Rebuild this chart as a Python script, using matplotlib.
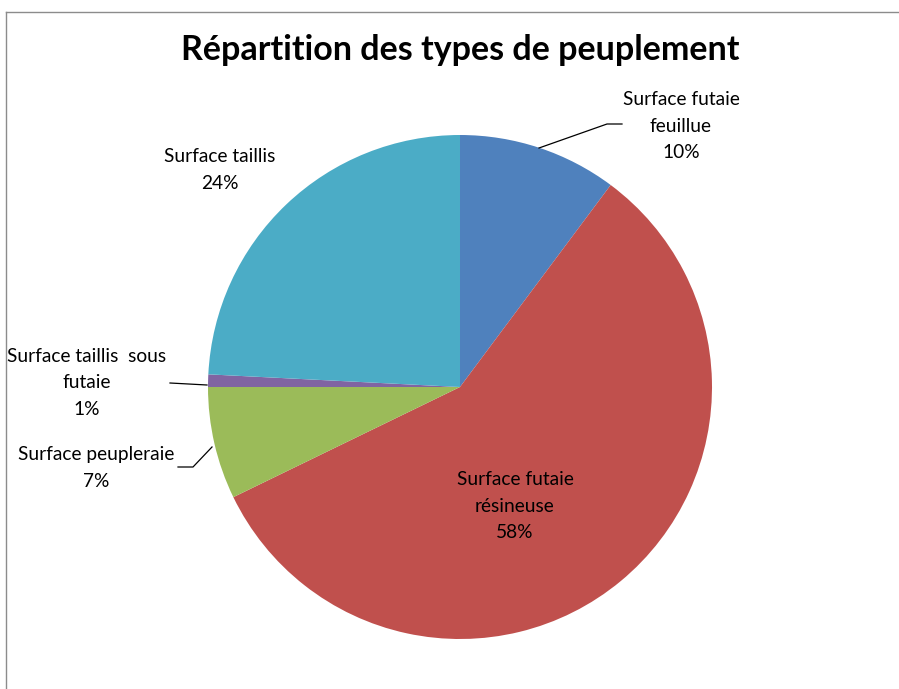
import matplotlib
matplotlib.use("Agg")
import matplotlib.pyplot as plt
from matplotlib.lines import Line2D

plt.rcParams['font.family'] = ['Lato', 'DejaVu Sans']

# data
labels = ["Surface futaie\nfeuillue", "Surface futaie\nrésineuse", "Surface peupleraie",
          "Surface taillis  sous\nfutaie", "Surface taillis"]
values = [10.2, 57.6, 7.2, 0.8, 24.2]
pct_text = ["10%", "58%", "7%", "1%", "24%"]
colors = ["#4F81BD", "#C0504D", "#9BBB59", "#8064A2", "#4BACC6"]

W, H = 899, 689
cx, cy, R = 460, 387, 252

fig = plt.figure(figsize=(W / 100, H / 100), dpi=100)
ax = fig.add_axes([(cx - R) / W, (H - cy - R) / H, 2 * R / W, 2 * R / H])
ax.pie(values, colors=colors, startangle=90, counterclock=False, radius=1,
       wedgeprops=dict(linewidth=0))
ax.set_xlim(-1, 1)
ax.set_ylim(-1, 1)
ax.set_aspect('equal')
ax.axis('off')


def d(px, py):
    # pixel position -> data coords of the pie axes
    return (px - cx) / R, (cy - py) / R


# label positions (pixel centres) and leader lines
label_pos = [(681, 126), (515, 506), (96, 468), (87, 383), (220, 170)]
leaders = [
    [(539, 148), (607, 124), (622, 124)],
    None,
    [(212, 447), (193, 467), (178, 467)],
    [(207, 385), (170, 383)],
    None,
]

for lab, pct, pos, ld in zip(labels, pct_text, label_pos, leaders):
    x, y = d(*pos)
    ax.text(x, y, lab + "\n" + pct, ha='center', va='center', fontsize=13.8,
            linespacing=1.7, color='black', clip_on=False)
    if ld:
        pts = [d(*p) for p in ld]
        ax.plot([p[0] for p in pts], [p[1] for p in pts], color='black',
                linewidth=0.9, clip_on=False)

fig.text(460 / W, 1 - 50 / H, "Répartition des types de peuplement",
         ha='center', va='center', fontsize=24.5, fontweight='bold')

# chart frame (only top and left visible)
fig.add_artist(Line2D([6 / W, 1], [1 - 12 / H, 1 - 12 / H], color='#8c8c8c', linewidth=1))
fig.add_artist(Line2D([6 / W, 6 / W], [0, 1 - 12 / H], color='#8c8c8c', linewidth=1))

fig.savefig("out.png", dpi=100)
